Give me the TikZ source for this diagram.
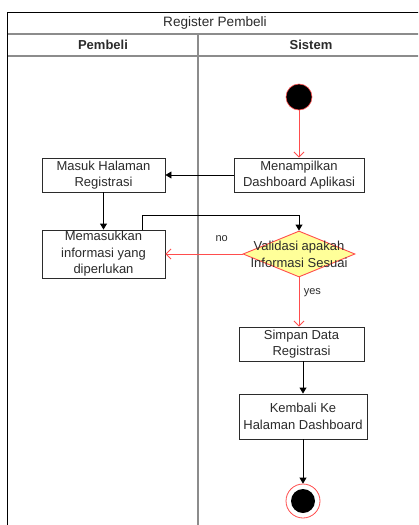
\documentclass[tikz,border=0pt]{standalone}
\usepackage{fontspec}
\setmainfont{Liberation Sans}
\usetikzlibrary{shapes.geometric,arrows.meta}
\definecolor{rd}{HTML}{FF4D4D}
\definecolor{yl}{HTML}{FFFF99}
\definecolor{txt}{HTML}{2B2B2B}
\definecolor{ln}{HTML}{8C8C8C}
\begin{document}
\begin{tikzpicture}[x=1pt,y=-1pt,
  font=\fontsize{13}{16.5}\selectfont, text=txt,
  box/.style={draw=txt, line width=0.9pt, fill=white, inner sep=0pt, align=center},
  barrow/.style={draw=black, line width=0.9pt, -{Triangle[length=6pt,width=7pt]}},
  rarrow/.style={draw=rd, line width=0.9pt, -{Straight Barb[length=5pt,width=10pt]}},
  lbl/.style={inner sep=0pt}]
\useasboundingbox (0,0) rectangle (418,525);
\begin{scope}
\clip (0,0) rectangle (418,525);
\draw[ln, line width=1.3pt] (7.5,34) -- (430,34);
\draw[ln, line width=1.3pt] (7.5,56) -- (430,56);
\draw[ln, line width=1.5pt] (198,34) -- (198,530);
\draw[black, line width=1pt] (7.5,530) -- (7.5,12.5) -- (430,12.5);
\end{scope}
\node[lbl, font=\fontsize{13.6}{15}\selectfont] (title) at (215,23) {Register Pembeli};
\node[lbl, font=\fontsize{13}{15}\selectfont\bfseries] (lane1) at (103,45) {Pembeli};
\node[lbl, font=\fontsize{13}{15}\selectfont\bfseries] (lane2) at (311,45) {Sistem};

\node[circle, fill=black, draw=rd, line width=0.6pt, minimum size=26pt, inner sep=0pt] (start) at (299,97) {};
\node[box, minimum width=130pt, minimum height=34pt] (menampilkan) at (299,175) {Menampilkan\\Dashboard Aplikasi};
\node[box, minimum width=123pt, minimum height=34pt] (masuk) at (103.5,175) {Masuk Halaman\\Registrasi};
\node[box, minimum width=123pt, minimum height=48pt] (memasukkan) at (103.5,254) {Memasukkan\\informasi yang\\diperlukan};
\node[diamond, draw=rd, fill=yl, line width=0.9pt, minimum width=112pt, minimum height=46pt, inner sep=0pt] (diamond) at (299,254) {};
\node[lbl, align=center, font=\fontsize{13}{17}\selectfont] (dtext) at (299,254) {Validasi apakah\\Informasi Sesuai};
\node[box, minimum width=125pt, minimum height=34pt] (simpan) at (301.5,344) {Simpan Data\\Registrasi};
\node[box, minimum width=128pt, minimum height=45pt, font=\fontsize{13}{17}\selectfont] (kembali) at (303,416.5) {Kembali Ke\\Halaman Dashboard};
\node[circle, fill=white, draw=rd, line width=0.8pt, minimum size=34pt, inner sep=0pt] (endo) at (303,501) {};
\node[circle, fill=black, minimum size=24pt, inner sep=0pt] (endi) at (303,501) {};

\coordinate (lp) at (142,215);
\draw[rarrow] (start) -- (menampilkan);
\draw[barrow] (menampilkan) -- (masuk);
\draw[barrow] (masuk) -- (memasukkan);
\draw[barrow] (memasukkan.north -| lp) -- (lp) -| (diamond.north);
\draw[rarrow] (diamond) -- node[pos=0.27, above=9pt, text=txt, font=\fontsize{11}{12}\selectfont]{no} (memasukkan);
\draw[rarrow] (diamond) -- node[pos=0.3, right=1pt, text=txt, font=\fontsize{11}{12}\selectfont]{yes} (diamond.south |- simpan.north);
\draw[barrow] (simpan.south -| kembali) -- (kembali);
\draw[barrow] (kembali) -- (endo);
\end{tikzpicture}
\end{document}
